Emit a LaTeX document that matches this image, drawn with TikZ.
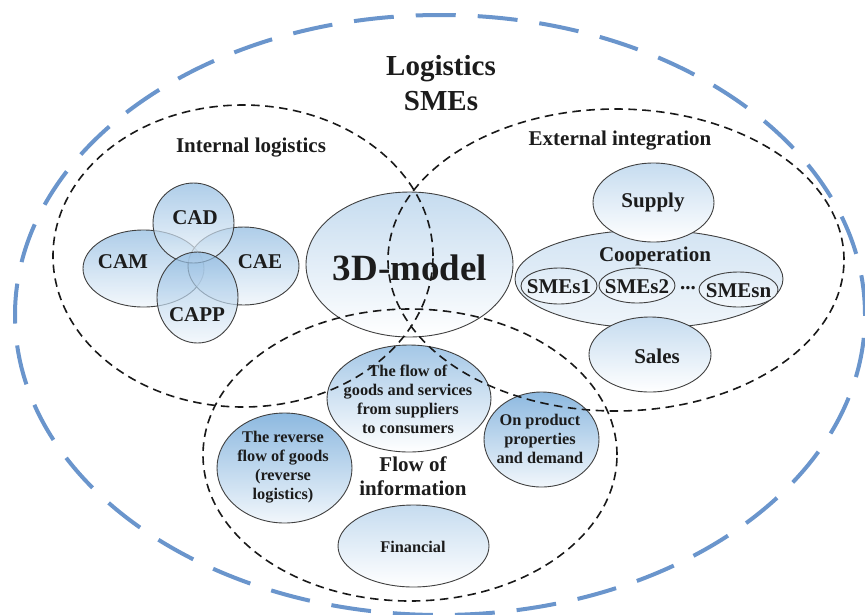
\documentclass[tikz,border=0pt]{standalone}
\usepackage{fontspec}
\setmainfont{Liberation Serif}
\usepackage{xcolor}
\usepackage{tikz}
\usetikzlibrary{shapes.geometric}
\definecolor{SMEBlue}{HTML}{6A95CC}
\definecolor{BubbleBlue}{HTML}{8DB9E0}
\definecolor{InkGray}{HTML}{1C1C1C}

\begin{document}
\begin{tikzpicture}[
  x=1pt, y=-1pt,
  text=InkGray,
  bubble/.style={ellipse, draw=black!75, line width=0.9pt, inner sep=0pt, top color=BubbleBlue!80, bottom color=white},
  dark/.style={bubble, top color=BubbleBlue, bottom color=BubbleBlue!12},
  light/.style={bubble, top color=BubbleBlue!50, bottom color=white},
  cax/.style={bubble, top color=BubbleBlue, bottom color=BubbleBlue!15, fill opacity=0.7},
  area/.style={ellipse, draw=black!90, line width=1.6pt, dash pattern=on 8.5pt off 5.5pt, inner sep=0pt},
  titletxt/.style={font=\fontsize{29}{35}\selectfont\bfseries, align=center},
  modeltxt/.style={font=\fontsize{37}{40}\selectfont\bfseries},
  midtxt/.style={font=\fontsize{21}{24}\selectfont\bfseries, align=center},
  smalltxt/.style={font=\fontsize{16.3}{19}\selectfont\bfseries, align=center}
]
\useasboundingbox (0,0) rectangle (865,614);

% whole enterprise
\node[ellipse, draw=SMEBlue, line width=4pt, dash pattern=on 40pt off 22pt, minimum width=850, minimum height=600] (smes) at (440,315) {};
\node[titletxt] (title) at (441,83.5) {Logistics\\SMEs};

% internal logistics
\node[cax, minimum width=121, minimum height=77] (cam) at (143.5,268.5) {};
\node[cax, minimum width=111, minimum height=78] (cae) at (243.5,266) {};
\node[cax, minimum width=81, minimum height=80] (cad) at (193.5,223) {};
\node[cax, minimum width=81, minimum height=91] (capp) at (197.5,297.5) {};
\node[midtxt] (camtxt) at (123,262) {CAM};
\node[midtxt] (caetxt) at (260,262) {CAE};
\node[midtxt] (cadtxt) at (195,218) {CAD};
\node[midtxt] (capptxt) at (197,315) {CAPP};
\node[midtxt] (inttxt) at (251,148) {Internal logistics};

% model in the middle
\node[light, minimum width=207, minimum height=145] (model) at (409.5,264.5) {};
\node[modeltxt] (modeltxt) at (410,268) {3D-model};

% external integration
\node[bubble, top color=BubbleBlue!38, bottom color=BubbleBlue!14, minimum width=268, minimum height=98] (coop) at (649,279) {};
\node[light, minimum width=121, minimum height=79] (supply) at (653.5,202.5) {};
\node[light, minimum width=122, minimum height=75] (sales) at (650,354.5) {};
\node[bubble, top color=BubbleBlue!30, bottom color=BubbleBlue!10, minimum width=76, minimum height=36] (sme1) at (559,286) {};
\node[bubble, top color=BubbleBlue!30, bottom color=BubbleBlue!10, minimum width=76, minimum height=35] (sme2) at (637,285.5) {};
\node[bubble, top color=BubbleBlue!30, bottom color=BubbleBlue!10, minimum width=79, minimum height=35] (smen) at (738.5,289.5) {};
\node[midtxt] (coopt) at (655,256) {Cooperation};
\node[midtxt] (supplyt) at (653,202) {Supply};
\node[midtxt] (salest) at (657,356) {Sales};
\node[midtxt] (sme1t) at (559,287) {SMEs1};
\node[midtxt] (sme2t) at (637,286.5) {SMEs2};
\node[midtxt] (dots) at (688,288) {...};
\node[midtxt] (sment) at (738.5,290.5) {SMEsn};
\node[midtxt] (exttxt) at (620,141) {External integration};

% flow of information
\node[bubble, minimum width=164, minimum height=107] (goods) at (409,398.5) {};
\node[dark, minimum width=115, minimum height=95] (product) at (541.5,439.5) {};
\node[dark, minimum width=135, minimum height=110] (reverse) at (284.5,468) {};
\node[light, minimum width=151, minimum height=82] (financial) at (413.5,546) {};
\node[smalltxt] (goodst) at (408,399) {The flow of\\goods and services\\from suppliers\\to consumers};
\node[smalltxt] (productt) at (540,439) {On product\\properties\\and demand};
\node[smalltxt] (reverset) at (283,467) {The reverse\\flow of goods\\(reverse\\logistics)};
\node[smalltxt] (financialt) at (413,547) {Financial};
\node[midtxt] (flowtxt) at (413,476) {Flow of\\information};

% the three overlapping areas
\node[area, minimum width=380, minimum height=302] (internal) at (243,256) {};
\node[area, minimum width=456, minimum height=302] (external) at (616,260) {};
\node[area, minimum width=414, minimum height=292] (flow) at (410,455) {};
\end{tikzpicture}
\end{document}
